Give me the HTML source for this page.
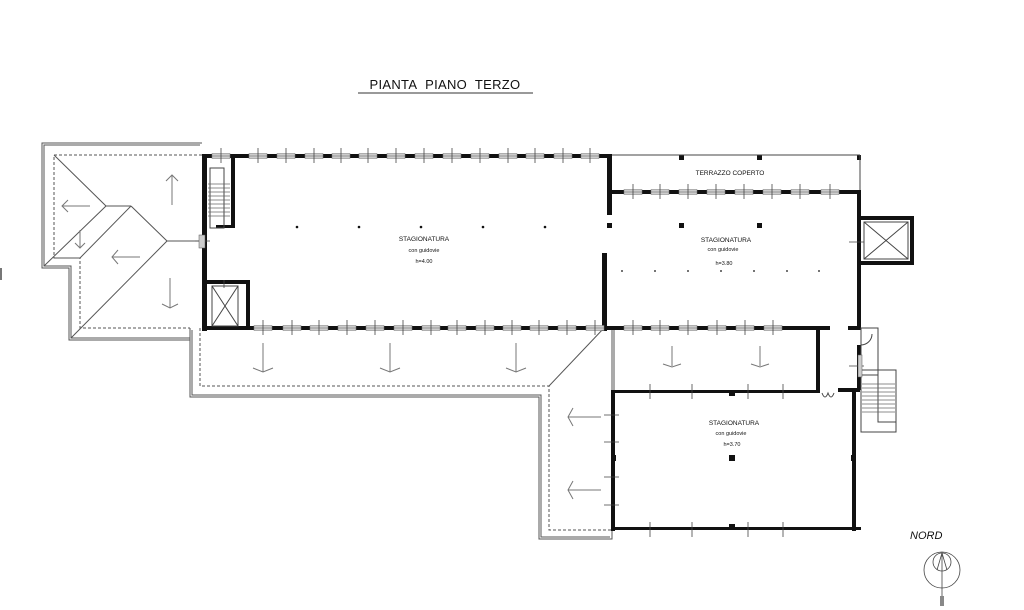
<!DOCTYPE html>
<html><head><meta charset="utf-8"><style>
html,body{margin:0;padding:0;background:#fff;width:1024px;height:610px;overflow:hidden}
svg{display:block}
text{font-family:"Liberation Sans",Arial,sans-serif;fill:#111}
</style></head><body>
<svg width="1024" height="610" viewBox="0 0 1024 610" xmlns="http://www.w3.org/2000/svg">
<defs>
<g id="wh"><rect x="-9" y="-2.5" width="18" height="5" fill="#ccc" stroke="#777" stroke-width="0.5"/><line x1="-9" y1="0" x2="9" y2="0" stroke="#666" stroke-width="0.5"/></g>
</defs>
<text x="445" y="89" font-size="13" text-anchor="middle" letter-spacing="0.3">PIANTA&#160;&#160;PIANO&#160;&#160;TERZO</text>
<line x1="358" y1="93" x2="533" y2="93" stroke="#333" stroke-width="1"/>
<rect x="0" y="268" width="2" height="12" fill="#777"/>

<g fill="none" stroke="#555" stroke-width="1">
<polyline points="202,143 42,143 42,268 69,268 69,340 190,340"/>
<polyline points="200,145 44,145 44,266 71,266 71,338 190,338"/>
<polyline stroke-dasharray="3,2" points="202,155 54,155 54,258 80,258 80,328 190,328"/>
<line x1="54" y1="155" x2="106" y2="206"/>
<line x1="44" y1="266" x2="106" y2="206"/>
<line x1="106" y1="206" x2="131" y2="206"/>
<line x1="131" y1="206" x2="167" y2="241"/>
<line x1="80" y1="258" x2="131" y2="206"/>
<line x1="71" y1="338" x2="167" y2="241"/>
<line x1="167" y1="241" x2="200" y2="241"/>
<line x1="54" y1="258" x2="80" y2="258"/>
<polyline points="190,328 190,397 539,397 539,539 612,539 612,330"/>
<polyline points="192,330 192,395 541,395 541,537 610,537"/>
<polyline stroke-dasharray="3,2" points="200,328 200,386 549,386 549,530 612,530"/>
<line x1="604" y1="328" x2="549" y2="386"/>
<line x1="614" y1="330" x2="614" y2="392"/>
</g>
<g fill="none" stroke="#777" stroke-width="1">
<path d="M172,205 V175 M166,181 L172,175 L178,181"/>
<path d="M90,206 H62 M68,200 L62,206 L68,212"/>
<path d="M80,230 V248 M75,243 L80,248 L85,243"/>
<path d="M140,257 H112 M118,250 L112,257 L118,264"/>
<path d="M170,278 V308 M162,304 L170,308 L178,304"/>
<path d="M263,343 V372 M253,368 L263,372 L273,368"/>
<path d="M390,343 V372 M380,368 L390,372 L400,368"/>
<path d="M516,343 V372 M506,368 L516,372 L526,368"/>
<path d="M601,417 H568 M573,408 L568,417 L573,426"/>
<path d="M601,490 H568 M573,481 L568,490 L573,499"/>
<path d="M672,346 V366 M663,364 L672,367 L681,364"/>
<path d="M760,346 V366 M751,364 L760,367 L769,364"/>
</g>

<g fill="#111">
<rect x="202" y="154" width="410" height="4"/>
<rect x="202" y="154" width="5" height="177"/>
<rect x="231" y="155" width="4" height="73"/>
<rect x="216" y="225" width="19" height="3"/>
<rect x="202" y="280" width="47" height="4"/>
<rect x="246" y="280" width="4" height="50"/>
<rect x="202" y="326" width="628" height="4"/>
<rect x="607" y="155" width="5" height="60"/>
<rect x="602" y="253" width="5" height="78"/>
<rect x="607" y="190" width="253" height="4"/>
<rect x="857" y="190" width="4" height="140"/>
<rect x="848" y="326" width="13" height="4"/>
<rect x="816" y="326" width="4" height="67"/>
<rect x="611" y="390" width="209" height="3"/>
<rect x="611" y="390" width="4" height="141"/>
<rect x="611" y="527" width="250" height="3"/>
<rect x="852" y="390" width="4" height="141"/>
<rect x="838" y="388" width="22" height="4"/>
<rect x="857" y="345" width="4" height="45"/>
<rect x="860" y="216" width="54" height="4"/>
<rect x="910" y="216" width="4" height="49"/>
<rect x="860" y="261" width="54" height="4"/>
<rect x="679" y="155" width="5" height="5"/><rect x="757" y="155" width="5" height="5"/><rect x="857" y="155" width="4" height="5"/>
<rect x="679" y="223" width="5" height="5"/><rect x="757" y="223" width="5" height="5"/><rect x="607" y="223" width="5" height="5"/>
<rect x="729" y="455" width="6" height="6"/><rect x="729" y="390" width="6" height="6"/><rect x="729" y="524" width="6" height="6"/>
<rect x="611" y="455" width="5" height="6"/><rect x="851" y="455" width="5" height="6"/>
<circle cx="297" cy="227" r="1.3"/><circle cx="359" cy="227" r="1.3"/><circle cx="421" cy="227" r="1.3"/><circle cx="483" cy="227" r="1.3"/><circle cx="545" cy="227" r="1.3"/>
<circle cx="622" cy="271" r="0.9"/><circle cx="655" cy="271" r="0.9"/><circle cx="688" cy="271" r="0.9"/><circle cx="721" cy="271" r="0.9"/><circle cx="754" cy="271" r="0.9"/><circle cx="787" cy="271" r="0.9"/><circle cx="819" cy="271" r="0.9"/>
</g>
<!-- window sashes -->
<g>
<use href="#wh" x="221" y="156"/><use href="#wh" x="258" y="156"/><use href="#wh" x="286" y="156"/><use href="#wh" x="314" y="156"/><use href="#wh" x="341" y="156"/><use href="#wh" x="368" y="156"/><use href="#wh" x="396" y="156"/><use href="#wh" x="424" y="156"/><use href="#wh" x="452" y="156"/><use href="#wh" x="480" y="156"/><use href="#wh" x="508" y="156"/><use href="#wh" x="535" y="156"/><use href="#wh" x="563" y="156"/><use href="#wh" x="590" y="156"/>
<use href="#wh" x="263" y="328"/><use href="#wh" x="292" y="328"/><use href="#wh" x="319" y="328"/><use href="#wh" x="347" y="328"/><use href="#wh" x="375" y="328"/><use href="#wh" x="403" y="328"/><use href="#wh" x="431" y="328"/><use href="#wh" x="457" y="328"/><use href="#wh" x="485" y="328"/><use href="#wh" x="512" y="328"/><use href="#wh" x="539" y="328"/><use href="#wh" x="567" y="328"/><use href="#wh" x="595" y="328"/>
<use href="#wh" x="633" y="328"/><use href="#wh" x="660" y="328"/><use href="#wh" x="688" y="328"/><use href="#wh" x="717" y="328"/><use href="#wh" x="745" y="328"/><use href="#wh" x="773" y="328"/>
<use href="#wh" x="633" y="192"/><use href="#wh" x="660" y="192"/><use href="#wh" x="688" y="192"/><use href="#wh" x="716" y="192"/><use href="#wh" x="744" y="192"/><use href="#wh" x="772" y="192"/><use href="#wh" x="800" y="192"/><use href="#wh" x="830" y="192"/>
</g>
<g fill="none" stroke="#444" stroke-width="1">
<line x1="612" y1="155" x2="860" y2="155"/>
<line x1="860" y1="155" x2="860" y2="190"/>
<rect x="212" y="286" width="26" height="40"/>
<line x1="212" y1="286" x2="238" y2="326"/><line x1="238" y1="286" x2="212" y2="326"/>
<rect x="864" y="222" width="44" height="37"/>
<line x1="864" y1="222" x2="908" y2="259"/><line x1="908" y1="222" x2="864" y2="259"/>
<rect x="210" y="168" width="14" height="60"/>
<rect x="861" y="328" width="17" height="47"/>
<path d="M861,345 A11,11 0 0 0 872,334"/>
<rect x="861" y="370" width="35" height="62"/>
<rect x="878" y="370" width="18" height="52"/>
<path d="M822,393 q3,8 6,0 q3,8 6,0"/>
</g>
<g stroke="#666" stroke-width="0.7">
<line x1="208" y1="184" x2="230" y2="184"/><line x1="208" y1="188" x2="230" y2="188"/><line x1="208" y1="192" x2="230" y2="192"/><line x1="208" y1="196" x2="230" y2="196"/><line x1="208" y1="200" x2="230" y2="200"/><line x1="208" y1="204" x2="230" y2="204"/><line x1="208" y1="208" x2="230" y2="208"/><line x1="208" y1="212" x2="230" y2="212"/><line x1="208" y1="216" x2="230" y2="216"/>
<line x1="862" y1="384" x2="895" y2="384"/><line x1="862" y1="388" x2="895" y2="388"/><line x1="862" y1="392" x2="895" y2="392"/><line x1="862" y1="396" x2="895" y2="396"/><line x1="862" y1="400" x2="895" y2="400"/><line x1="862" y1="404" x2="895" y2="404"/><line x1="862" y1="408" x2="895" y2="408"/><line x1="862" y1="412" x2="895" y2="412"/>
</g>
<g stroke="#444" stroke-width="0.8">
<path d="M258,148v15M286,148v15M314,148v15M341,148v15M368,148v15M396,148v15M424,148v15M452,148v15M480,148v15M508,148v15M535,148v15M563,148v15M590,148v15M221,148v15"/>
<path d="M263,320v15M292,320v15M319,320v15M347,320v15M375,320v15M403,320v15M431,320v15M457,320v15M485,320v15M512,320v15M539,320v15M567,320v15M595,320v15"/>
<path d="M633,320v15M660,320v15M688,320v15M717,320v15M745,320v15M773,320v15"/>
<path d="M633,184v15M660,184v15M688,184v15M716,184v15M744,184v15M772,184v15M800,184v15M830,184v15"/>
<path d="M650,384v15M692,384v15M748,384v15M783,384v15M650,522v15M692,522v15M748,522v15M783,522v15"/>
<path d="M604,415h15M604,442h15M604,477h15M604,505h15"/>
<path d="M195,241h15M849,242h15M849,366h15M224,280v8"/>
</g>
<g fill="#ccc" stroke="#555" stroke-width="0.5">
<rect x="199" y="235" width="6" height="13"/>
<rect x="858" y="355" width="4" height="22"/>
</g>
<text x="424" y="241" font-size="6.5" text-anchor="middle">STAGIONATURA</text>
<text x="424" y="252" font-size="5.5" text-anchor="middle">con guidovie</text>
<text x="424" y="263" font-size="5.5" text-anchor="middle">h=4.00</text>
<text x="730" y="175" font-size="6.5" text-anchor="middle">TERRAZZO COPERTO</text>
<text x="726" y="242" font-size="6.5" text-anchor="middle">STAGIONATURA</text>
<text x="723" y="251" font-size="5.5" text-anchor="middle">con guidovie</text>
<text x="724" y="265" font-size="5.5" text-anchor="middle">h=3.80</text>
<text x="734" y="425" font-size="6.5" text-anchor="middle">STAGIONATURA</text>
<text x="731" y="435" font-size="5.5" text-anchor="middle">con guidovie</text>
<text x="732" y="446" font-size="5.5" text-anchor="middle">h=3.70</text>
<text x="910" y="539" font-size="11" font-style="italic">NORD</text>
<g fill="none" stroke="#444" stroke-width="0.8">
<circle cx="942" cy="570" r="18"/>
<circle cx="942" cy="562" r="9"/>
<line x1="942" y1="553" x2="942" y2="596"/>
<path d="M937,570 L942,553 L947,570"/>
</g>
<rect x="940" y="596" width="4" height="10" fill="#888"/>
</svg>
</body></html>
